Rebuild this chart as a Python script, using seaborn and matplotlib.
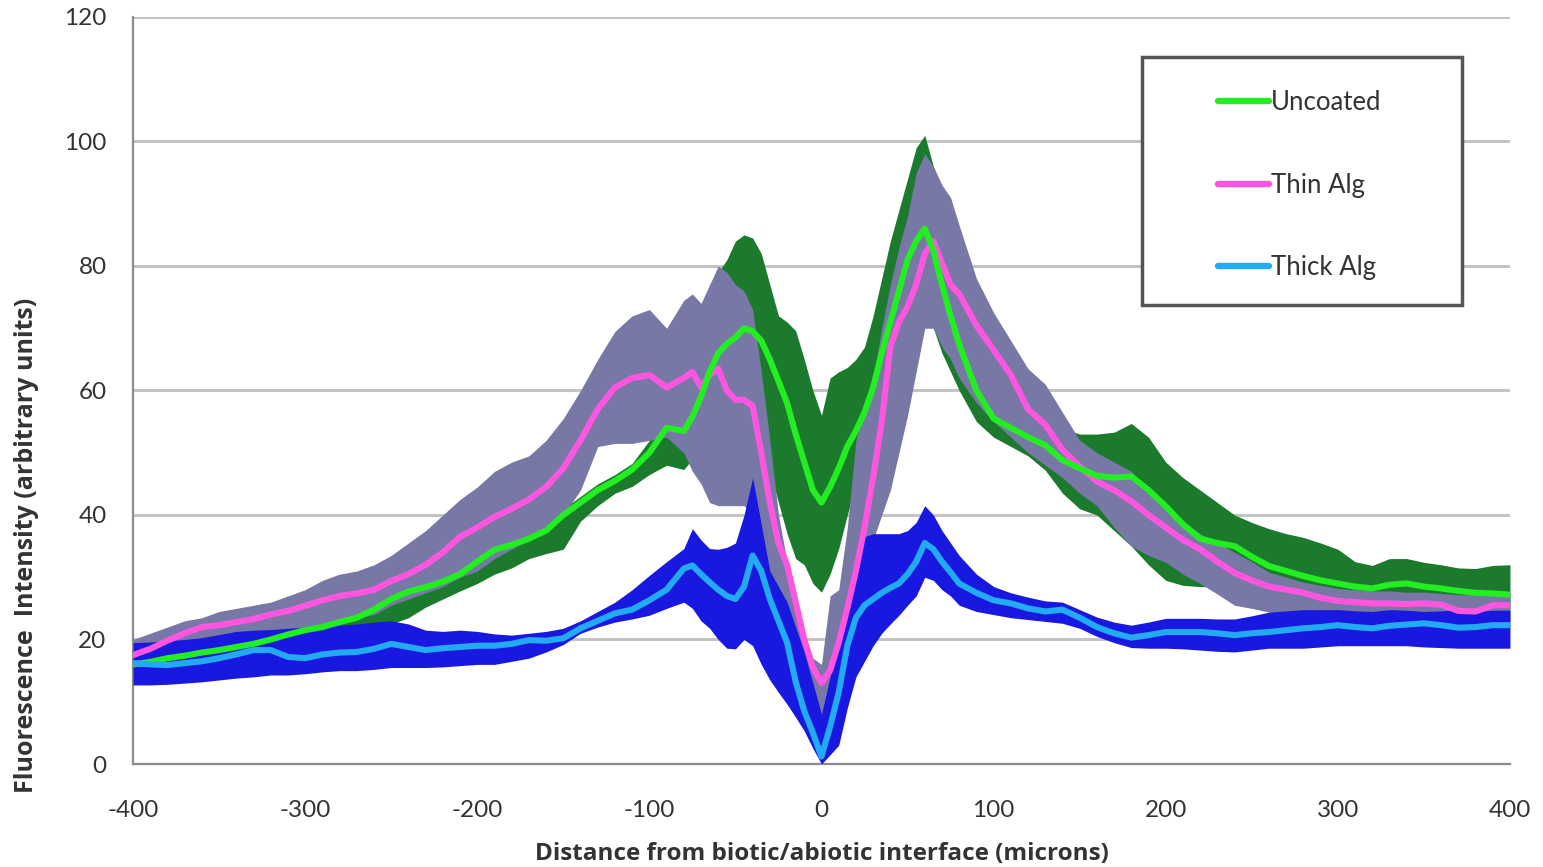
import numpy as np
import pandas as pd
import matplotlib
matplotlib.use('Agg')
import matplotlib.pyplot as plt
from matplotlib.patches import Rectangle
from matplotlib.lines import Line2D
import seaborn as sns

# eje x: distancia a la interfaz (micras)
dist = (list(range(-400, -80, 10)) + list(range(-80, 80, 5)) + list(range(80, 401, 10)))
x_ticks = [-400, -300, -200, -100, 0, 100, 200, 300, 400]
x_tick_labels = ['-400', '-300', '-200', '-100', '0', '100', '200', '300', '400']

# Uncoated: media, limite superior e inferior
unc_mean = [16, 16.4, 17, 17.4, 17.9, 18.3, 18.8, 19.3, 20, 20.8, 21.5, 22, 22.8, 23.5, 24.8, 26.5,
            27.7, 28.4, 29.3, 30.5, 32.5, 34.4, 35.2, 36.2, 37.5, 40, 42, 44, 45.5, 47.3, 50, 54,
            53.5, 55.8, 59, 63, 66, 67.5, 68.5, 70, 69.5, 68, 65, 61.5, 58, 53, 48.5, 44, 42, 44.5,
            47.5, 51, 53.5, 56.5, 60.5, 66, 71, 76, 81, 84, 86, 82.5, 77, 72,
            67.4, 60, 55.5, 54, 52.5, 51.2, 48.8, 47.5, 46.3, 46, 46.2, 44, 41.4, 38.5, 36.2, 35.5,
            35, 33.3, 31.8, 31, 30.2, 29.5, 29, 28.5, 28.2, 28.8, 29, 28.5, 28.2, 27.8, 27.5, 27.4, 27.2]
unc_hi = [17, 17.4, 18, 18.4, 18.9, 19.3, 19.8, 20.3, 21, 21.8, 22.5, 23, 23.8, 24.5, 25.8, 27.5,
          28.7, 29.4, 30.3, 31.5, 33.5, 35.4, 36.2, 37.2, 38.5, 41, 43, 45, 46.5, 48.3, 52, 56,
          58, 62, 70, 76, 79, 81, 84, 85, 84.5, 82, 77, 72, 71, 69.6, 65, 60, 56, 62,
          63, 63.7, 65, 67, 72, 78, 84, 89, 94, 99, 101, 96, 92, 88,
          83, 74, 68, 64, 60, 57, 54, 53, 53, 53.3, 54.7, 52.5, 48.5, 46, 44, 42,
          40, 38.8, 37.8, 37, 36.4, 35.5, 34.5, 32.5, 31.9, 33, 33, 32.4, 32, 31.5, 31.4, 31.9, 32]
unc_lo = [14, 14.3, 14.8, 15.2, 15.6, 16, 16.4, 16.8, 17.3, 18, 18.5, 19, 19.6, 20.2, 21.2, 22.5,
          23.5, 25.2, 26.5, 27.8, 29, 30.5, 31.5, 33, 33.8, 34.5, 39, 41.5, 43.5, 44.6, 46.5, 48,
          47.3, 49, 50, 52, 55, 56, 57, 57, 56, 52, 47, 42, 37, 33, 32, 29, 27.6, 30.5,
          34.6, 40, 45, 49.5, 53, 56, 60, 64, 67, 70, 72, 70, 66, 63,
          60, 55, 52.5, 51, 49.5, 47.2, 43.5, 41, 40, 37.5, 35, 32, 29.5, 28.7, 28.5, 28.5,
          28, 27, 26.5, 26, 25.8, 25.5, 25.3, 25, 25, 25, 25, 25, 25, 24.8, 24.8, 24.8, 24.8]

# Thin Alg
thin_mean = [17.5, 18.5, 19.8, 21, 22, 22.3, 22.8, 23.3, 24, 24.6, 25.4, 26.3, 27, 27.4, 28, 29.4,
             30.5, 32, 34, 36.5, 38, 39.7, 41, 42.5, 44.5, 47.5, 52, 57, 60.5, 62, 62.5, 60.5,
             62, 63, 60.5, 62.5, 63.5, 60, 58.5, 58.5, 57.5, 50, 42, 35.5, 32, 26, 20, 15.5, 13, 15,
             19.5, 25, 31, 38, 46, 55, 67, 71, 73.5, 77, 82, 84, 80.5, 77,
             75.5, 70.5, 66.5, 62.5, 57, 54.5, 50.5, 47.8, 45.4, 44, 42.2, 40, 38, 36, 34.5, 32.5,
             30.7, 29.5, 28.5, 28, 27.5, 26.7, 26.2, 26, 25.8, 25.8, 25.7, 25.8, 25.6, 24.6, 24.5, 25.5, 25.5]
thin_hi = [20, 21, 22, 23, 23.5, 24.5, 25, 25.5, 26, 27, 28, 29.5, 30.5, 31, 32, 33.5,
           35.5, 37.5, 40, 42.5, 44.5, 47, 48.5, 49.5, 52, 55.5, 60, 65, 69.5, 72, 73, 70,
           74.5, 75.5, 74, 77, 80, 79, 77, 76, 73, 63, 52, 40, 32.5, 27, 21, 17, 16, 27,
           28, 38, 52, 57, 62, 70, 77, 83, 88, 95, 98, 96, 93, 91,
           86.5, 78, 72.5, 68, 63.5, 61, 56.5, 52, 50, 48.5, 47, 44, 41.5, 39, 37, 35.5,
           34, 32.5, 30.8, 30, 29.2, 28.7, 28.2, 28, 27.8, 27.8, 27.6, 27.6, 27.4, 27.2, 27.2, 27.5, 27.5]
thin_lo = [16, 16.5, 17.5, 18.5, 19, 19.5, 20, 20.5, 21, 21.5, 22, 22.5, 23, 23.5, 24, 25.5,
           26.5, 27.5, 28.5, 30, 31, 33, 34.5, 36, 38, 40, 44, 51, 51.5, 51.5, 52, 52.5,
           50, 47, 45, 42, 41.5, 41.5, 41.5, 41.5, 40, 35, 28, 22, 17, 13, 10, 8, 7.5, 8,
           12, 18, 24, 30, 36, 40, 44, 50, 56, 63, 70, 70, 67, 65,
           62, 58, 55, 52.5, 50, 48, 46, 43.5, 41.5, 38, 35, 33.5, 32.4, 30.5, 29, 27.3,
           25.5, 25, 24.4, 24.2, 24, 23.5, 23.5, 23.3, 23.2, 23.2, 23, 23, 23, 23, 23, 23, 23]

# Thick Alg
thick_mean = [16.2, 16, 15.9, 16.2, 16.5, 17, 17.6, 18.3, 18.3, 17.2, 17, 17.6, 17.9, 18, 18.5, 19.3,
              18.8, 18.3, 18.6, 18.8, 19, 19, 19.3, 19.9, 19.8, 20.2, 21.8, 23, 24.2, 24.8, 26.3, 28,
              31.4, 31.9, 30.5, 29.2, 28, 27, 26.5, 28.5, 33.5, 31, 26.5, 23, 19.5, 13.2, 8.5, 5, 1.2, 6,
              11.5, 19, 23.5, 25.5, 26.5, 27.5, 28.3, 29, 30.5, 32.5, 35.5, 34.5, 32.5, 30.8,
              29, 27.5, 26.3, 25.8, 25, 24.5, 24.8, 23.5, 22, 21, 20.3, 20.7, 21.2, 21.2, 21.2, 21,
              20.7, 21, 21.2, 21.5, 21.8, 22, 22.3, 22, 21.8, 22.2, 22.4, 22.6, 22.3, 21.9, 22, 22.3, 22.3]
thick_hi = [19.5, 19.6, 19.8, 20, 20.3, 20.8, 21.3, 21.5, 21.6, 21.8, 22, 22.2, 22.3, 22.5, 22.8, 23,
            22.5, 21.5, 21.3, 21.5, 21.3, 20.9, 20.7, 21, 21.3, 21.8, 23, 24.5, 26, 28, 30.3, 32.5,
            34.6, 37.8, 36, 34.6, 34.5, 34.8, 35.5, 40, 46, 38.5, 31, 28.5, 26, 22, 18, 13, 8, 14,
            20, 27, 33, 36.5, 37, 37, 37, 37, 37.5, 38.8, 41.5, 40, 37.5, 35.5,
            33.5, 30.5, 28.5, 27.5, 26.8, 26.2, 26, 24.8, 23.6, 22.8, 22.3, 22.8, 23.4, 23.4, 23.4, 23.3,
            23.3, 23.8, 24.4, 24.6, 24.8, 24.8, 24.8, 24.6, 24.5, 24.8, 24.7, 24.5, 24.6, 24.8, 24.5, 24.7, 24.7]
thick_lo = [12.7, 12.7, 12.8, 13, 13.2, 13.5, 13.8, 14, 14.3, 14.3, 14.5, 14.8, 15, 15, 15.2, 15.5,
            15.5, 15.5, 15.6, 15.8, 16, 16, 16.5, 17, 18, 19.2, 21, 22, 22.8, 23.3, 23.9, 25,
            26, 25, 23, 21.8, 20, 18.6, 18.5, 20, 19, 16, 13.5, 11.5, 9.6, 7.5, 5.3, 2.5, 0, 1.5,
            3, 9, 14, 16.5, 19, 21, 22.5, 23.9, 25.5, 27, 30, 29.5, 28, 27,
            25.5, 24.5, 24, 23.5, 23.2, 22.9, 22.6, 21.8, 20.5, 19.5, 18.7, 18.6, 18.6, 18.5, 18.3, 18.1,
            18, 18.3, 18.6, 18.6, 18.6, 18.8, 19, 19, 19, 19, 19, 18.8, 18.7, 18.6, 18.6, 18.6, 18.6]

series = ['Uncoated', 'Thin Alg', 'Thick Alg']
line_colors = {'Uncoated': '#22ee22', 'Thin Alg': '#ff55e0', 'Thick Alg': '#22aaf2'}
band_colors = {'Uncoated': '#1c7a2c', 'Thin Alg': '#7878a6', 'Thick Alg': '#1818e0'}

df = pd.DataFrame({
    'dist': dist * 3,
    'valor': unc_mean + thin_mean + thick_mean,
    'hi': unc_hi + thin_hi + thick_hi,
    'lo': unc_lo + thin_lo + thick_lo,
    'serie': [s for s in series for _ in dist],
})

sns.set_style('white')
plt.rcParams['font.family'] = ['Lato', 'DejaVu Sans']

fig = plt.figure(figsize=(15.43, 8.67), dpi=100)
ax = fig.add_axes([0.0862, 0.1188, 0.8924, 0.8616])

# bandas de error (verde abajo, gris encima, azul arriba)
for s, z in zip(series, [1, 2, 3]):
    d = df[df['serie'] == s]
    ax.fill_between(d['dist'], d['lo'], d['hi'], color=band_colors[s], linewidth=0, zorder=z)

# lineas medias
for s, z in [('Thin Alg', 4), ('Uncoated', 5), ('Thick Alg', 6)]:
    d = df[df['serie'] == s]
    sns.lineplot(data=d, x='dist', y='valor', color=line_colors[s], linewidth=4.4, ax=ax,
                 zorder=z, legend=False)

ax.set_xlim(-400, 400)
ax.set_ylim(0, 120)
ax.set_xticks(x_ticks)
ax.set_xticklabels(x_tick_labels)
ax.set_yticks(range(0, 121, 20))
ax.yaxis.grid(True, color='#c4c4c4', linewidth=2.2, zorder=0)
ax.set_axisbelow(True)
for side in ['top', 'right']:
    ax.spines[side].set_visible(False)
for side in ['left', 'bottom']:
    ax.spines[side].set_color('#8c8c8c')
    ax.spines[side].set_linewidth(1.6)
ax.tick_params(axis='y', length=6, width=1.6, color='#b0b0b0', pad=13, labelsize=17.5, labelcolor='#333333')
ax.tick_params(axis='x', length=4, width=1.6, color='#b0b0b0', pad=22, labelsize=17.5, labelcolor='#333333')

lab_font = {'family': ['Open Sans', 'DejaVu Sans'], 'weight': 'bold', 'color': '#333333'}
ax.set_xlabel('Distance from biotic/abiotic interface (microns)', fontdict=lab_font, fontsize=17.5)
ax.xaxis.set_label_coords(0.5, -0.105)
ax.set_ylabel('Fluorescence  Intensity (arbitrary units)', fontdict=lab_font, fontsize=18)
ax.yaxis.set_label_coords(-0.068, 0.292)

# leyenda con marco propio
fig.patches.append(Rectangle((1142 / 1543, 1 - 305 / 867), 320 / 1543, 248 / 867,
                             transform=fig.transFigure, facecolor='white', edgecolor='#555555',
                             linewidth=2.5, zorder=10))
handles = [Line2D([0], [0], color=line_colors[s], linewidth=4.6) for s in series]
leg = fig.legend(handles, series, loc='upper left', bbox_to_anchor=(1205 / 1543, 1 - 77 / 867),
                 frameon=False, fontsize=18.5, handlelength=2.0, handletextpad=0.05,
                 labelspacing=2.25, borderpad=0)
leg.set_zorder(11)
for t in leg.get_texts():
    t.set_color('#333333')

fig.savefig('out.png', dpi=100)
